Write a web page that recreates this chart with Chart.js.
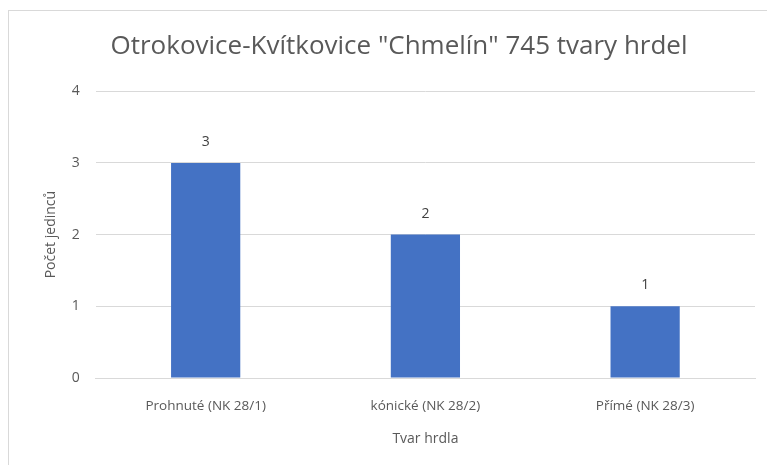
<!DOCTYPE html>
<html><head><meta charset="utf-8">
<script src="https://cdn.jsdelivr.net/npm/chart.js@4"></script>
<style>
html,body{margin:0;padding:0;background:#fff;}
#wrap{position:absolute;left:0;top:0;width:767px;height:465px;}
#frame{position:absolute;left:8px;top:10px;width:780px;height:480px;border-left:1px solid #d9d9d9;border-top:1px solid #d9d9d9;}
</style></head>
<body>
<div id="wrap"><div id="frame"></div><canvas id="c" width="767" height="465"></canvas></div>
<script>
const categories = ["Prohnuté (NK 28/1)", "kónické (NK 28/2)", "Přímé (NK 28/3)"];
const counts = [3, 2, 1];
const yTicks = [0, 1, 2, 3, 4];
const titleText = 'Otrokovice-Kvítkovice "Chmelín" 745 tvary hrdel';
const yTitle = "Počet jedinců";
const xTitle = "Tvar hrdla";

const FONT = "'Open Sans', 'Liberation Sans', sans-serif";
const valueLabels = {
  id: 'valueLabels',
  afterDatasetsDraw(chart) {
    const ctx = chart.ctx;
    const meta = chart.getDatasetMeta(0);
    ctx.save();
    ctx.fillStyle = '#404040';
    ctx.font = "14px " + FONT;
    ctx.textAlign = 'center';
    ctx.textBaseline = 'bottom';
    meta.data.forEach((bar, i) => {
      ctx.fillText(String(counts[i]), bar.x, bar.y - 14);
    });
    ctx.restore();
  }
};

new Chart(document.getElementById('c'), {
  type: 'bar',
  data: {
    labels: categories,
    datasets: [{ data: counts, backgroundColor: '#4472c4', categoryPercentage: 1.0, barPercentage: 0.315 }]
  },
  options: {
    responsive: false,
    animation: false,
    layout: { padding: { left: 43, right: 12, top: 8, bottom: 18 } },
    plugins: {
      legend: { display: false },
      tooltip: { enabled: false },
      title: {
        display: true, text: titleText, color: '#595959',
        font: { family: FONT, size: 26, weight: 'normal' }, padding: { top: 23, bottom: 29 }
      }
    },
    scales: {
      x: {
        grid: { display: false, drawTicks: false },
        border: { color: '#d9d9d9' },
        ticks: { color: '#595959', font: { family: FONT, size: 13.5 }, padding: 20 },
        title: { display: true, text: xTitle, color: '#595959', font: { family: FONT, size: 14 }, padding: { top: -4, bottom: 0 } }
      },
      y: {
        min: 0, max: 4,
        afterBuildTicks: (s) => { s.ticks = yTicks.map(v => ({ value: v })); },
        grid: { color: '#d9d9d9', drawTicks: false },
        border: { display: false },
        ticks: { color: '#595959', font: { family: FONT, size: 14 }, padding: 16 },
        title: { display: true, text: yTitle, color: '#595959', font: { family: FONT, size: 14 }, padding: { top: 0, bottom: -4 } }
      }
    }
  },
  plugins: [valueLabels]
});
</script>
</body></html>
